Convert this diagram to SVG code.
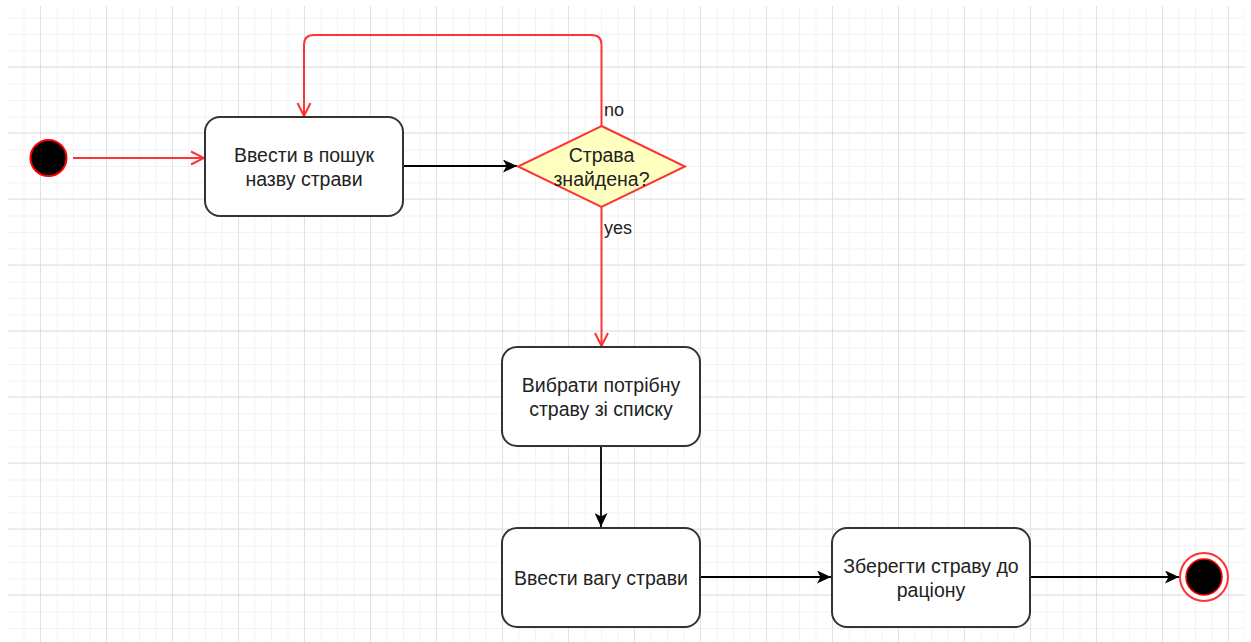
<svg xmlns="http://www.w3.org/2000/svg" width="1251" height="642" viewBox="0 0 1251 642">
  <defs>
    <pattern id="minorGrid" x="7" y="1" width="16.5" height="16.5" patternUnits="userSpaceOnUse">
      <path d="M 16.5 0 L 0 0 0 16.5" fill="none" stroke="#eeeeee" stroke-width="1.3"/>
    </pattern>
    <pattern id="majorGrid" x="40" y="1.5" width="66" height="66" patternUnits="userSpaceOnUse">
      <path d="M 0 0 L 0 66 M 0 66 L 66 66" fill="none" stroke="#dfdfdf" stroke-width="1.8"/>
    </pattern>
    <marker id="blockArrow" markerWidth="15" markerHeight="13" refX="14" refY="6.5" orient="auto" markerUnits="userSpaceOnUse">
      <path d="M 0 0 L 14 6.5 L 0 13 L 3.5 6.5 Z" fill="#000"/>
    </marker>
    <marker id="openArrow" markerWidth="16" markerHeight="16" refX="14" refY="8" orient="auto" markerUnits="userSpaceOnUse">
      <path d="M 1 1.5 L 14 8 L 1 14.5" fill="none" stroke="#ff3333" stroke-width="2"/>
    </marker>
    <style>
      .box { fill: #ffffff; stroke: #333333; stroke-width: 2; }
      .lbl { font-family: "Liberation Sans", Arial, sans-serif; font-size: 19.5px; fill: #222222; text-anchor: middle; }
      .edge-lbl { font-family: "Liberation Sans", Arial, sans-serif; font-size: 18px; fill: #222222; }
      .flow { fill: none; stroke: #000000; stroke-width: 1.8; marker-end: url(#blockArrow); }
      .guard { fill: none; stroke: #ff3333; stroke-width: 2; marker-end: url(#openArrow); }
    </style>
  </defs>

  <!-- canvas with drawing grid -->
  <rect width="1251" height="642" fill="#ffffff"/>
  <rect x="8" y="6" width="1237" height="636" fill="url(#minorGrid)"/>
  <rect x="8" y="6" width="1237" height="636" fill="url(#majorGrid)"/>

  <!-- transitions -->
  <g id="connectors">
    <line class="guard" x1="73" y1="158" x2="204" y2="158"/>
    <line class="flow" x1="404" y1="166" x2="517" y2="166"/>
    <path class="guard" d="M 601.5 126 L 601.5 45 Q 601.5 35 591.5 35 L 314 35 Q 304 35 304 45 L 304 116"/>
    <line class="guard" x1="601.5" y1="207" x2="601.5" y2="346"/>
    <line class="flow" x1="601" y1="447" x2="601" y2="527"/>
    <line class="flow" x1="700" y1="577" x2="831" y2="577"/>
    <line class="flow" x1="1030" y1="577" x2="1179" y2="577"/>
    <text class="edge-lbl" x="604" y="116">no</text>
    <text class="edge-lbl" x="604" y="234">yes</text>
  </g>

  <!-- initial state -->
  <g id="start">
    <circle cx="48.5" cy="158" r="18" fill="#000000" stroke="#ff0000" stroke-width="2"/>
  </g>

  <g id="enter-search">
    <rect class="box" x="205" y="117" width="198" height="99" rx="15" ry="15"/>
    <text class="lbl" x="304" y="162">Ввести в пошук</text>
    <text class="lbl" x="304" y="186">назву страви</text>
  </g>

  <g id="found-decision">
    <polygon points="601.5,126 685,166.5 601.5,207 518,166.5" fill="#ffffc0" stroke="#ff3333" stroke-width="2"/>
    <text class="lbl" x="601.5" y="162">Страва</text>
    <text class="lbl" x="601.5" y="186">знайдена?</text>
  </g>

  <g id="choose-dish">
    <rect class="box" x="502" y="347" width="198" height="99" rx="15" ry="15"/>
    <text class="lbl" x="601" y="392">Вибрати потрібну</text>
    <text class="lbl" x="601" y="416">страву зі списку</text>
  </g>

  <g id="enter-weight">
    <rect class="box" x="502" y="528" width="198" height="99" rx="15" ry="15"/>
    <text class="lbl" x="601" y="585">Ввести вагу страви</text>
  </g>

  <g id="save-dish">
    <rect class="box" x="832" y="528" width="198" height="99" rx="15" ry="15"/>
    <text class="lbl" x="931" y="573">Зберегти страву до</text>
    <text class="lbl" x="931" y="597">раціону</text>
  </g>

  <!-- final state -->
  <g id="end">
    <circle cx="1204" cy="577" r="24" fill="#ffffff" stroke="#ff3333" stroke-width="2"/>
    <circle cx="1204" cy="577" r="18" fill="#000000" stroke="#ff0000" stroke-width="1.5"/>
  </g>
</svg>
